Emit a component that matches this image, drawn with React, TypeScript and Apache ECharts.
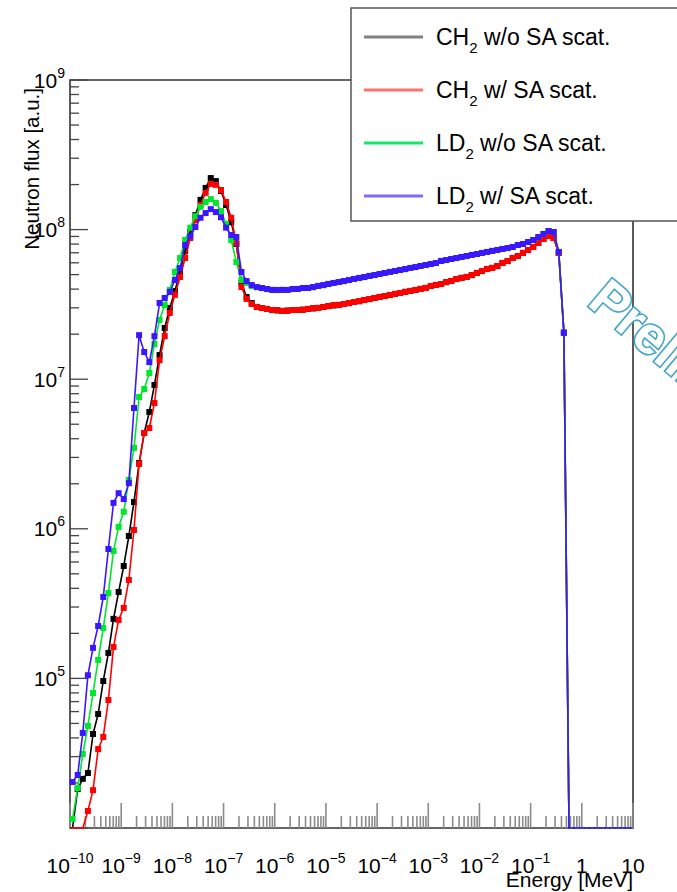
import React, { useEffect, useRef } from "react";
import * as echarts from "echarts";

// Histogram binning: 10 logarithmic bins per decade, first low edge at 1e-10 MeV
const LOG_E_LOW_EDGE = -10;
const BINS_PER_DECADE = 10;

const X_MIN = 1e-10;
const X_MAX = 10;
const Y_MIN = 1e4;
const Y_MAX = 1e9;

const xDecadeExponents = [-10, -9, -8, -7, -6, -5, -4, -3, -2, -1, 0, 1];
const yDecadeExponents = [4, 5, 6, 7, 8, 9];

const seriesNames = ["CH2 w/o SA scat.", "CH2 w/ SA scat.", "LD2 w/o SA scat.", "LD2 w/ SA scat."];
const legendParts = [
  ["CH", "2", " w/o SA scat."],
  ["CH", "2", " w/ SA scat."],
  ["LD", "2", " w/o SA scat."],
  ["LD", "2", " w/ SA scat."],
];

// Neutron flux per bin [a.u.] (0 = empty bin)
const ch2WithoutSA = [
  0, 1.82e4, 2.13e4, 2.33e4, 4.25e4, 5.78e4, 9.61e4, 1.48e5, 2.50e5, 3.78e5,
  5.64e5, 8.95e5, 1.51e6, 2.75e6, 4.37e6, 6.04e6, 9.15e6, 1.45e7, 2.20e7, 2.99e7,
  3.89e7, 5.21e7, 7.20e7, 9.64e7, 1.25e8, 1.58e8, 1.90e8, 2.21e8, 2.11e8, 1.81e8,
  1.46e8, 1.12e8, 8.01e7, 4.40e7, 3.54e7, 3.23e7, 3.04e7, 2.99e7, 2.95e7, 2.90e7,
  2.88e7, 2.86e7, 2.88e7, 2.90e7, 2.90e7, 2.92e7, 2.95e7, 2.97e7, 3.00e7, 3.04e7,
  3.08e7, 3.11e7, 3.14e7, 3.18e7, 3.22e7, 3.28e7, 3.32e7, 3.38e7, 3.43e7, 3.49e7,
  3.55e7, 3.60e7, 3.65e7, 3.72e7, 3.77e7, 3.84e7, 3.89e7, 3.95e7, 4.02e7, 4.08e7,
  4.19e7, 4.27e7, 4.33e7, 4.45e7, 4.54e7, 4.67e7, 4.76e7, 4.83e7, 4.96e7, 5.14e7,
  5.28e7, 5.46e7, 5.55e7, 5.70e7, 5.99e7, 6.16e7, 6.47e7, 6.65e7, 6.99e7, 7.30e7,
  7.66e7, 8.13e7, 8.66e7, 9.05e7, 8.80e7, 6.97e7, 2.05e7, 0, 0, 0,
  0, 0, 0, 0, 0, 0, 0, 0, 0, 0,
];

const ch2WithSA = [
  0, 0, 0, 1.30e4, 1.79e4, 3.37e4, 4.06e4, 7.17e4, 1.62e5, 2.46e5,
  2.96e5, 4.55e5, 9.82e5, 2.71e6, 4.37e6, 4.72e6, 6.93e6, 1.34e7, 1.94e7, 2.77e7,
  3.66e7, 4.82e7, 6.46e7, 8.79e7, 1.16e8, 1.46e8, 1.76e8, 2.02e8, 1.99e8, 1.84e8,
  1.53e8, 1.20e8, 8.14e7, 4.13e7, 3.44e7, 3.18e7, 3.04e7, 2.99e7, 2.95e7, 2.90e7,
  2.90e7, 2.86e7, 2.86e7, 2.90e7, 2.90e7, 2.90e7, 2.95e7, 2.99e7, 2.99e7, 3.04e7,
  3.08e7, 3.13e7, 3.13e7, 3.18e7, 3.23e7, 3.28e7, 3.33e7, 3.38e7, 3.44e7, 3.49e7,
  3.54e7, 3.60e7, 3.66e7, 3.71e7, 3.77e7, 3.83e7, 3.89e7, 3.95e7, 4.01e7, 4.07e7,
  4.20e7, 4.26e7, 4.33e7, 4.46e7, 4.53e7, 4.68e7, 4.75e7, 4.82e7, 4.97e7, 5.13e7,
  5.29e7, 5.45e7, 5.54e7, 5.71e7, 5.98e7, 6.17e7, 6.46e7, 6.66e7, 6.98e7, 7.31e7,
  7.65e7, 8.14e7, 8.65e7, 9.06e7, 8.79e7, 6.98e7, 2.04e7, 0, 0, 0,
  0, 0, 0, 0, 0, 0, 0, 0, 0, 0,
];

const ld2WithoutSA = [
  1.15e4, 1.85e4, 3.12e4, 4.81e4, 7.99e4, 1.33e5, 2.17e5, 3.72e5, 7.11e5, 1.03e6,
  1.30e6, 2.12e6, 3.47e6, 7.60e6, 8.60e6, 1.10e7, 1.72e7, 2.49e7, 3.13e7, 3.95e7,
  5.21e7, 6.46e7, 8.52e7, 1.03e8, 1.23e8, 1.42e8, 1.53e8, 1.60e8, 1.51e8, 1.33e8,
  1.09e8, 8.52e7, 6.07e7, 4.60e7, 4.40e7, 4.20e7, 4.12e7, 4.06e7, 4.00e7, 3.96e7,
  3.94e7, 3.96e7, 3.95e7, 4.00e7, 4.02e7, 4.06e7, 4.08e7, 4.12e7, 4.21e7, 4.25e7,
  4.34e7, 4.39e7, 4.47e7, 4.52e7, 4.61e7, 4.67e7, 4.76e7, 4.81e7, 4.91e7, 4.96e7,
  5.06e7, 5.12e7, 5.22e7, 5.28e7, 5.38e7, 5.44e7, 5.55e7, 5.61e7, 5.72e7, 5.79e7,
  5.90e7, 5.97e7, 6.18e7, 6.25e7, 6.37e7, 6.45e7, 6.57e7, 6.65e7, 6.78e7, 6.86e7,
  6.99e7, 7.08e7, 7.21e7, 7.30e7, 7.43e7, 7.52e7, 7.66e7, 7.88e7, 8.02e7, 8.25e7,
  8.53e7, 8.91e7, 9.36e7, 9.78e7, 9.65e7, 7.08e7, 2.05e7, 0, 0, 0,
  0, 0, 0, 0, 0, 0, 0, 0, 0, 0,
];

const ld2WithSA = [
  2.03e4, 2.26e4, 4.32e4, 1.05e5, 1.60e5, 2.24e5, 3.50e5, 7.33e5, 1.49e6, 1.73e6,
  1.58e6, 2.02e6, 6.42e6, 1.97e7, 1.52e7, 1.30e7, 1.94e7, 3.23e7, 3.49e7, 3.83e7,
  4.60e7, 5.54e7, 7.89e7, 9.06e7, 1.04e8, 1.20e8, 1.29e8, 1.37e8, 1.31e8, 1.21e8,
  1.03e8, 9.20e7, 8.92e7, 5.21e7, 4.53e7, 4.26e7, 4.13e7, 4.07e7, 4.01e7, 3.95e7,
  3.95e7, 3.95e7, 3.95e7, 4.01e7, 4.01e7, 4.07e7, 4.07e7, 4.13e7, 4.20e7, 4.26e7,
  4.33e7, 4.40e7, 4.46e7, 4.53e7, 4.60e7, 4.68e7, 4.75e7, 4.82e7, 4.90e7, 4.97e7,
  5.05e7, 5.13e7, 5.21e7, 5.29e7, 5.37e7, 5.45e7, 5.54e7, 5.62e7, 5.71e7, 5.80e7,
  5.89e7, 5.98e7, 6.17e7, 6.26e7, 6.36e7, 6.46e7, 6.56e7, 6.66e7, 6.77e7, 6.87e7,
  6.98e7, 7.09e7, 7.20e7, 7.31e7, 7.42e7, 7.53e7, 7.65e7, 7.89e7, 8.01e7, 8.26e7,
  8.52e7, 8.92e7, 9.35e7, 9.79e7, 9.64e7, 7.09e7, 2.04e7, 0, 0, 0,
  0, 0, 0, 0, 0, 0, 0, 0, 0, 0,
];

const seriesValues = [ch2WithoutSA, ch2WithSA, ld2WithoutSA, ld2WithSA];
const lineColors = ["#000000", "#ff0000", "#00e62e", "#3a17ff"];
const legendColors = ["#808080", "#ff7070", "#14e86a", "#7a6bff"];

const FONT = "'Liberation Sans', Arial, Helvetica, sans-serif";

const binCenter = (i: number) => Math.pow(10, LOG_E_LOW_EDGE + (i + 0.5) / BINS_PER_DECADE);

const powLabel = (v: number) => {
  const e = Math.round(Math.log10(v));
  if (e === 0) return "{b|1}";
  if (e === 1) return "{b|10}";
  return `{b|10}{s|${e < 0 ? "\u2212" + -e : e}}`;
};

const richPow = {
  b: { fontSize: 21, fontFamily: FONT, color: "#000", lineHeight: 26 },
  s: { fontSize: 14, fontFamily: FONT, color: "#000", verticalAlign: "top", height: 11 },
};

export default function App() {
  const ref = useRef<HTMLDivElement>(null);

  useEffect(() => {
    if (!ref.current) return;
    const chart = echarts.init(ref.current, undefined, { renderer: "svg" });

    const xTicks: number[][] = [];
    xDecadeExponents.forEach((e) => {
      for (let m = 1; m <= 9; m++) {
        const v = m * Math.pow(10, e);
        if (v <= X_MAX * 1.0001) xTicks.push([v, Y_MIN, m === 1 ? 1 : 0]);
      }
    });
    const yTicks: number[][] = [];
    yDecadeExponents.forEach((e) => {
      for (let m = 1; m <= 9; m++) {
        const v = m * Math.pow(10, e);
        if (v <= Y_MAX * 1.0001) yTicks.push([X_MIN, v, m === 1 ? 1 : 0]);
      }
    });

    const lineSeries = seriesValues.map((vals, k) => ({
      type: "line",
      name: seriesNames[k],
      z: 3 + k,
      data: vals.map((v, i) => ({
        value: [binCenter(i), v > 0 ? v : Y_MIN],
        symbolSize: v > 0 ? 6 : 2,
      })),
      symbol: "rect",
      symbolSize: 6,
      showSymbol: true,
      lineStyle: { color: lineColors[k], width: 1.6 },
      itemStyle: { color: lineColors[k] },
      clip: true,
      silent: true,
      emphasis: { disabled: true },
    }));

    const legendRows = [37, 90, 143, 196];

    const option: any = {
      animation: false,
      backgroundColor: "#ffffff",
      grid: {
        left: 70,
        top: 80,
        width: 563,
        height: 748,
        show: true,
        borderColor: "#333333",
        borderWidth: 1.6,
        backgroundColor: "transparent",
        containLabel: false,
      },
      xAxis: {
        type: "log",
        logBase: 10,
        min: X_MIN,
        max: X_MAX,
        interval: 1,
        axisLine: { show: false },
        axisTick: { show: false },
        splitLine: { show: false },
        axisLabel: { formatter: powLabel, rich: richPow, margin: 24 },
      },
      yAxis: {
        type: "log",
        logBase: 10,
        min: Y_MIN,
        max: Y_MAX,
        interval: 1,
        axisLine: { show: false },
        axisTick: { show: false },
        splitLine: { show: false },
        axisLabel: {
          formatter: (v: number) => (Math.round(Math.log10(v)) <= 4 ? "" : powLabel(v)),
          rich: richPow,
          margin: 5,
          align: "right",
        },
      },
      series: [
        {
          type: "custom",
          z: 1,
          silent: true,
          data: xTicks,
          renderItem: (params: any, api: any) => {
            const p = api.coord([api.value(0), api.value(1)]);
            const len = api.value(2) ? 25 : 12;
            return {
              type: "line",
              shape: { x1: p[0], y1: p[1], x2: p[0], y2: p[1] - len },
              style: { stroke: "#8c8c8c", lineWidth: 1.6 },
            };
          },
        },
        {
          type: "custom",
          z: 1,
          silent: true,
          data: yTicks,
          renderItem: (params: any, api: any) => {
            const p = api.coord([api.value(0), api.value(1)]);
            const len = api.value(2) ? 18 : 9;
            return {
              type: "line",
              shape: { x1: p[0], y1: p[1], x2: p[0] + len, y2: p[1] },
              style: { stroke: "#444444", lineWidth: 1.3 },
            };
          },
        },
        ...lineSeries,
      ],
      graphic: [
        {
          type: "text",
          x: 598,
          y: 290,
          rotation: -0.7,
          z: 90,
          silent: true,
          style: {
            text: "Preliminary",
            fontSize: 53,
            fontWeight: "bold",
            fontFamily: FONT,
            fill: "#ffffff",
            stroke: "#3fa6c6",
            lineWidth: 3.2,
            align: "left",
            verticalAlign: "middle",
          },
        },
        {
          type: "text",
          x: 31,
          y: 88,
          rotation: Math.PI / 2,
          z: 100,
          silent: true,
          style: {
            text: "Neutron flux [a.u.]",
            fontSize: 20.5,
            fontFamily: FONT,
            fill: "#000",
            align: "right",
            verticalAlign: "middle",
          },
        },
        {
          type: "text",
          x: 633,
          y: 879,
          z: 100,
          silent: true,
          style: {
            text: "Energy [MeV]",
            fontSize: 21,
            fontFamily: FONT,
            fill: "#000",
            align: "right",
            verticalAlign: "middle",
          },
        },
        {
          type: "rect",
          z: 100,
          silent: true,
          shape: { x: 351, y: 8, width: 360, height: 213 },
          style: { fill: "#ffffff", stroke: "#555555", lineWidth: 1.5 },
        },
        ...legendParts.map((parts, i) => ({
          type: "line",
          z: 101,
          silent: true,
          shape: { x1: 364, y1: legendRows[i], x2: 423, y2: legendRows[i] },
          style: { stroke: legendColors[i], lineWidth: 3 },
        })),
        ...legendParts.map((parts, i) => ({
          type: "text",
          z: 101,
          silent: true,
          x: 436,
          y: legendRows[i],
          style: {
            text: `{a|${parts[0]}}{u|${parts[1]}}{a|${parts[2]}}`,
            align: "left",
            verticalAlign: "middle",
            rich: {
              a: { fontSize: 23, fontFamily: FONT, fill: "#000", lineHeight: 26 },
              u: { fontSize: 15, fontFamily: FONT, fill: "#000", verticalAlign: "bottom", height: 6 },
            },
          },
        })),
      ],
    };

    chart.setOption(option);
    return () => chart.dispose();
  }, []);

  return (
    <div
      ref={ref}
      style={{ position: "absolute", left: 0, top: 0, width: 677, height: 892 }}
    />
  );
}
